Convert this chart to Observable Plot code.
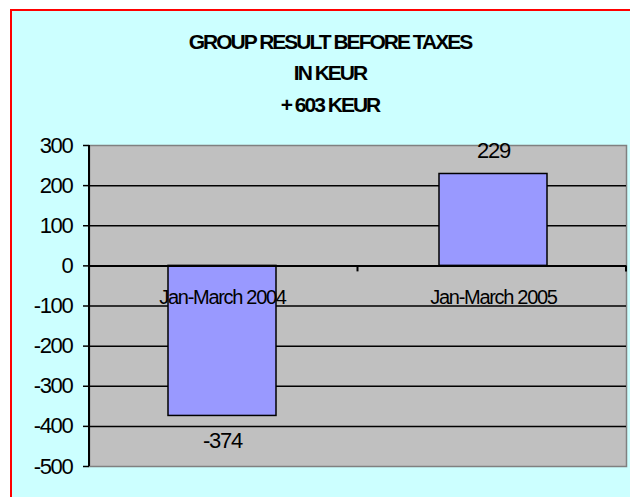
<!DOCTYPE html>
<html>
<head>
<meta charset="utf-8">
<script src="https://cdn.jsdelivr.net/npm/d3@7"></script>
<script src="https://cdn.jsdelivr.net/npm/@observablehq/plot@0.6"></script>
<style>
  html, body { margin: 0; padding: 0; background: #ffffff; width: 630px; height: 497px; overflow: hidden; position: relative; }
  #panel { position: absolute; left: 10px; top: 9px; width: 660px; height: 520px; background: #CCFFFF; border: 2px solid #FF0000; box-sizing: border-box; }
  .title { position: absolute; left: 0; width: 660px; text-align: center; font-family: "Liberation Sans", Arial, sans-serif; font-weight: bold; font-size: 21px; line-height: 21px; letter-spacing: -2px; color: #000; white-space: nowrap; }
  #chart { position: absolute; left: 0; top: 130px; }
  #chart svg { font-family: "Liberation Sans", Arial, sans-serif; background: transparent; }
  #chart svg text { letter-spacing: -1.3px; }
</style>
</head>
<body>
<div id="panel"></div>
<div class="title" style="top:31px">GROUP RESULT BEFORE TAXES</div>
<div class="title" style="top:62px">IN KEUR</div>
<div class="title" style="top:94px">+ 603 KEUR</div>
<div id="chart"></div>
<script>
// ---- data ----
const categories = ["Jan-March 2004", "Jan-March 2005"];
const values = [-374, 229];
const yTicks = [300, 200, 100, 0, -100, -200, -300, -400, -500];
const gridValues = [200, 100, -100, -200, -300, -400];

const data = categories.map((c, i) => ({cat: c, value: values[i]}));

const plot = Plot.plot({
  width: 630,
  height: 367,
  marginLeft: 89,
  marginRight: 4,
  marginTop: 15,
  marginBottom: 31,
  style: {background: "transparent", color: "#000", fontSize: "22px", overflow: "visible"},
  x: {domain: categories, paddingInner: 0.6, paddingOuter: 0.29, axis: null},
  y: {domain: [-500, 300], axis: null},
  marks: [
    Plot.frame({fill: "#C0C0C0", stroke: "#808080", strokeWidth: 1.5}),
    Plot.ruleY(gridValues, {stroke: "#000", strokeWidth: 1.5}),
    Plot.axisY({ticks: yTicks, label: null, tickSize: 6, tickPadding: 11, tickFormat: d => String(d), fontSize: 22, stroke: "#000", strokeWidth: 1.5}),
    Plot.barY(data, {x: "cat", y: "value", fill: "#9999FF", stroke: "#000", strokeWidth: 1.5}),
    Plot.ruleY([0], {stroke: "#000", strokeWidth: 2}),
    Plot.text(data.filter(d => d.value >= 0), {x: "cat", y: "value", text: d => String(d.value), dy: -23, fontSize: 22, fill: "#000"}),
    Plot.text(data.filter(d => d.value < 0), {x: "cat", y: "value", text: d => String(d.value), dy: 25, fontSize: 22, fill: "#000"}),
    Plot.text(categories, {x: d => d, y: () => 0, dy: 32, fontSize: 20, fill: "#000"})
  ]
});

document.getElementById("chart").appendChild(plot);

// axis line on the left and category-boundary ticks on the zero line, from the plot's own scales
const sx = plot.scale("x");
const sy = plot.scale("y");
const xb = d3.scaleBand().domain(sx.domain).range(sx.range)
  .paddingInner(sx.paddingInner ?? 0.6).paddingOuter(sx.paddingOuter ?? 0.3).align(sx.align ?? 0.5);
const yl = d3.scaleLinear().domain(sy.domain).range(sy.range);
const step = xb.step();
const bounds = [sx.range[0]];
for (let i = 0; i < categories.length - 1; i++) {
  bounds.push(xb(categories[i]) + xb.bandwidth() + (step - xb.bandwidth()) / 2);
}
bounds.push(sx.range[1]);
const svg = d3.select(plot);
const g = svg.append("g").attr("stroke", "#000").attr("stroke-width", 2);
g.append("line")
  .attr("x1", sx.range[0]).attr("x2", sx.range[0])
  .attr("y1", yl(d3.max(sy.domain))).attr("y2", yl(d3.min(sy.domain)));
g.selectAll("line.xt").data(bounds).join("line").attr("class", "xt")
  .attr("x1", d => d).attr("x2", d => d)
  .attr("y1", yl(0)).attr("y2", yl(0) + 6);
</script>
</body>
</html>
